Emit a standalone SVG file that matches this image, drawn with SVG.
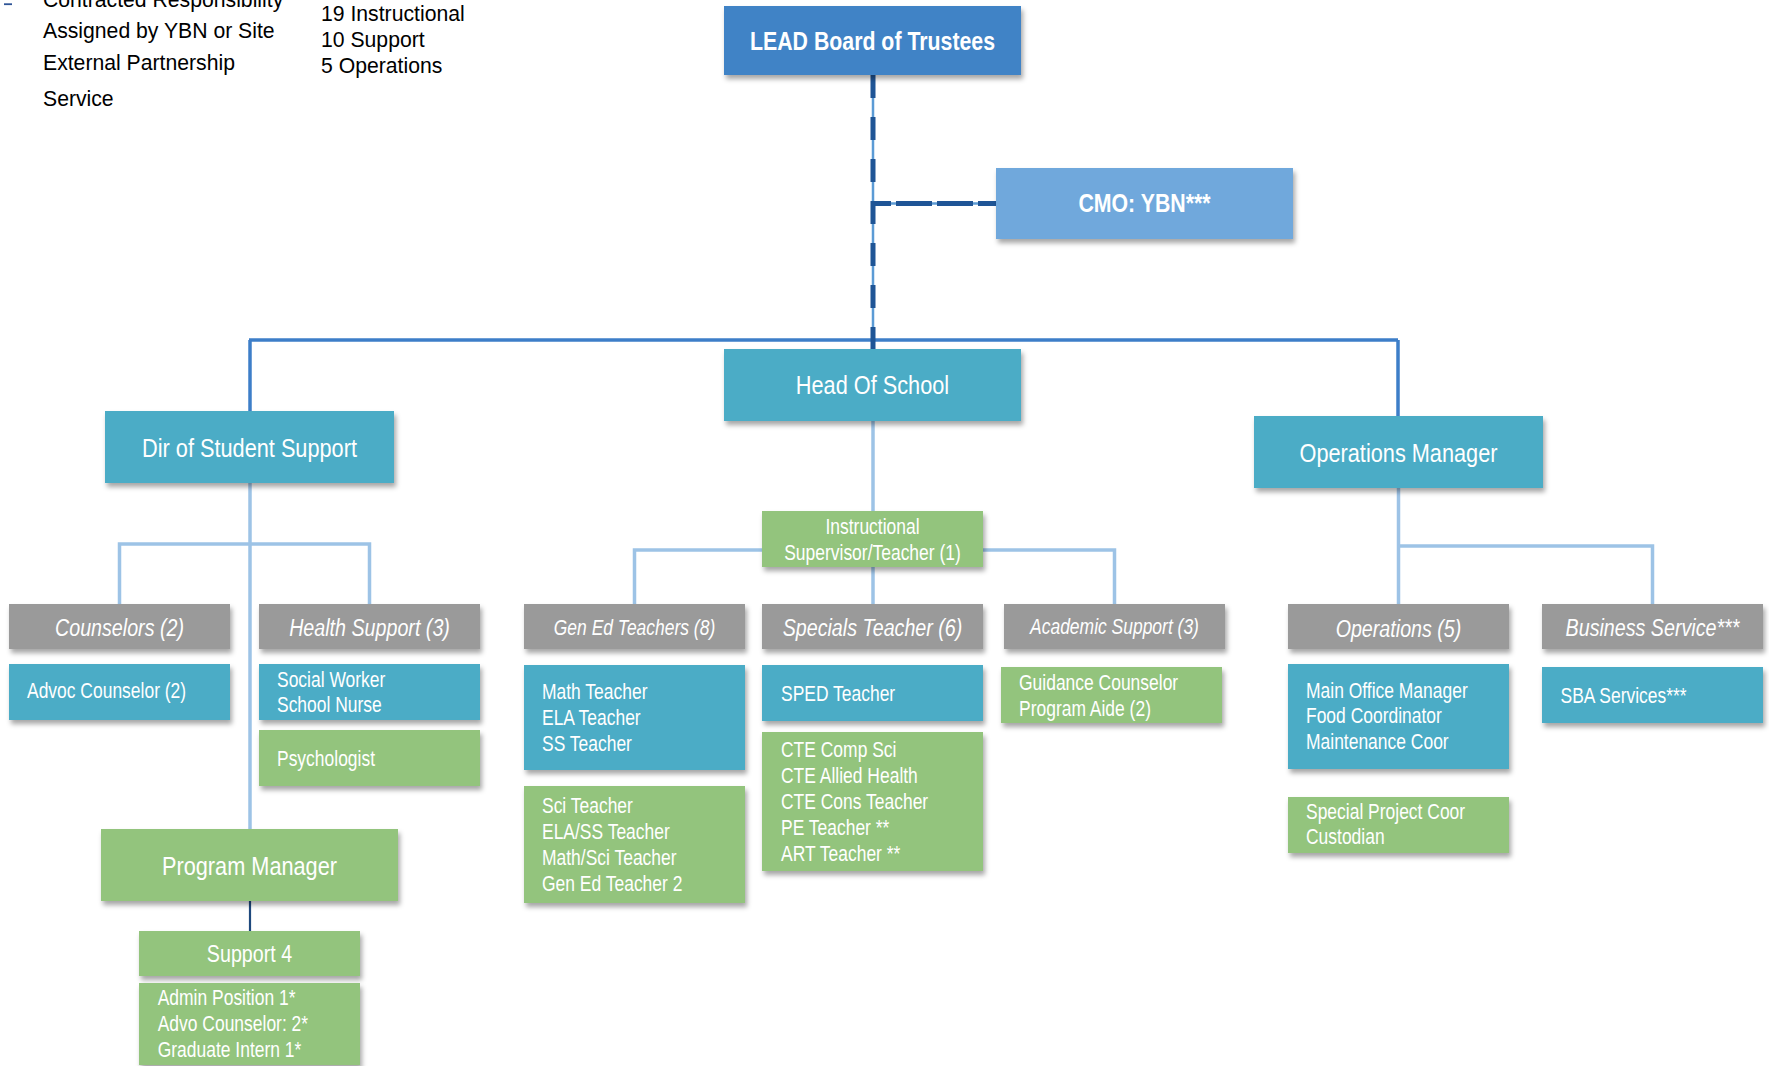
<svg xmlns="http://www.w3.org/2000/svg" width="1769" height="1066" viewBox="0 0 1769 1066">
<defs>
<filter id="sh" x="-10%" y="-20%" width="125%" height="160%">
<feDropShadow dx="2" dy="4" stdDeviation="2.5" flood-color="#000" flood-opacity="0.35"/>
</filter>
<style>
.nb rect{filter:url(#sh)}
.blue{fill:#3F83C6}
.cmo{fill:#6FA8DC}
.teal{fill:#4BACC6}
.green{fill:#93C47D}
.gray{fill:#9A9A9A}
text{font-family:"Liberation Sans",Arial,sans-serif;fill:#fff}
.t1{font-size:26.5px;text-anchor:middle}
.tb{font-size:26px;font-weight:bold;text-anchor:middle}
.th{font-size:24px;font-style:italic;text-anchor:middle}
.ths{font-size:21.3px;font-style:italic;text-anchor:middle}
.ti{font-size:21.3px}
.tc{font-size:21.3px;text-anchor:middle}
.tm{font-size:24px;text-anchor:middle}
.leg{font-size:21.2px;fill:#000}
.lt{fill:none;stroke:#9DC3E6;stroke-width:3.5}
.top{fill:none;stroke:#3D7EC8;stroke-width:3.5}
</style>
</defs>
<rect width="1769" height="1066" fill="#fff"/>

<g id="legend">
<rect x="4" y="3.3" width="8" height="1.8" fill="#2F5597"/>
<text class="leg" x="43" y="7">Contracted Responsibility</text>
<text class="leg" x="43" y="38">Assigned by YBN or Site</text>
<text class="leg" x="43" y="69.5">External Partnership</text>
<text class="leg" x="43" y="105.5">Service</text>
<text class="leg" x="321" y="21">19 Instructional</text>
<text class="leg" x="321" y="47">10 Support</text>
<text class="leg" x="321" y="73">5 Operations</text>
</g>

<g id="connectors">
<line x1="249" y1="340" x2="1398" y2="340" class="top"/>
<line x1="250" y1="340" x2="250" y2="411" class="top"/>
<line x1="1398" y1="340" x2="1398" y2="416" class="top"/>
<line x1="873" y1="75" x2="873" y2="349" stroke="#5B9BD5" stroke-width="2.5"/>
<line x1="873" y1="75" x2="873" y2="349" stroke="#1F5596" stroke-width="5" stroke-dasharray="23 19"/>
<line x1="873" y1="203.5" x2="996" y2="203.5" stroke="#5B9BD5" stroke-width="2.5"/>
<line x1="873" y1="203.5" x2="996" y2="203.5" stroke="#1F5596" stroke-width="5" stroke-dasharray="18 5 36 5 36 5 40"/>
<line x1="873" y1="421" x2="873" y2="511" class="lt"/>
<polyline points="634.5,604 634.5,550 1114.5,550 1114.5,604" class="lt"/>
<line x1="873" y1="567" x2="873" y2="604" class="lt"/>
<line x1="250" y1="483" x2="250" y2="829" class="lt"/>
<polyline points="119.5,604 119.5,544 369.5,544 369.5,604" class="lt"/>
<line x1="1398.5" y1="488" x2="1398.5" y2="604" class="lt"/>
<polyline points="1398.5,546 1652.5,546 1652.5,604" class="lt"/>
<line x1="250" y1="901" x2="250" y2="931" stroke="#1F497D" stroke-width="2.2"/>
</g>

<g id="lead" class="nb"><rect x="724" y="6" width="297" height="69" class="blue"/><text class="tb" transform="translate(872.5 50) scale(0.82 1)">LEAD Board of Trustees</text></g>
<g id="cmo" class="nb"><rect x="996" y="168" width="297" height="71" class="cmo"/><text class="tb" transform="translate(1144.5 212) scale(0.82 1)">CMO: YBN***</text></g>
<g id="head" class="nb"><rect x="724" y="349" width="297" height="72" class="teal"/><text class="t1" transform="translate(872.5 394) scale(0.82 1)">Head Of School</text></g>
<g id="dir" class="nb"><rect x="105" y="411" width="289" height="72" class="teal"/><text class="t1" transform="translate(249.5 456.5) scale(0.82 1)">Dir of Student Support</text></g>
<g id="opsmgr" class="nb"><rect x="1254" y="416" width="289" height="72" class="teal"/><text class="t1" transform="translate(1398.5 461.5) scale(0.82 1)">Operations Manager</text></g>
<g id="progmgr" class="nb"><rect x="101" y="829" width="297" height="72" class="green"/><text class="t1" transform="translate(249.5 875) scale(0.82 1)">Program Manager</text></g>
<g id="instr" class="nb"><rect x="762" y="511" width="221" height="56" class="green"/><text class="tc" transform="translate(872.5 534.3) scale(0.82 1)">Instructional</text><text class="tc" transform="translate(872.5 560) scale(0.82 1)">Supervisor/Teacher (1)</text></g>

<g id="counselors" class="nb"><rect x="9" y="604" width="221" height="45" class="gray"/><text class="th" transform="translate(119.5 635.5) scale(0.82 1)">Counselors (2)</text></g>
<g id="health" class="nb"><rect x="259" y="604" width="221" height="45" class="gray"/><text class="th" transform="translate(369.5 635.5) scale(0.82 1)">Health Support (3)</text></g>
<g id="gened" class="nb"><rect x="524" y="604" width="221" height="45" class="gray"/><text class="ths" transform="translate(634.5 634.5) scale(0.82 1)">Gen Ed Teachers (8)</text></g>
<g id="specials" class="nb"><rect x="762" y="604" width="221" height="45" class="gray"/><text class="th" transform="translate(872.5 636) scale(0.82 1)">Specials Teacher (6)</text></g>
<g id="academic" class="nb"><rect x="1004" y="604" width="221" height="45" class="gray"/><text class="ths" transform="translate(1114.5 634.3) scale(0.82 1)">Academic Support (3)</text></g>
<g id="operations" class="nb"><rect x="1288" y="604" width="221" height="45" class="gray"/><text class="th" transform="translate(1398.5 636.5) scale(0.82 1)">Operations (5)</text></g>
<g id="business" class="nb"><rect x="1542" y="604" width="221" height="45" class="gray"/><text class="th" transform="translate(1652.5 636) scale(0.82 1)">Business Service***</text></g>

<g id="advoc" class="nb"><rect x="9" y="664" width="221" height="56" class="teal"/><text class="ti" transform="translate(27 698.3) scale(0.82 1)">Advoc Counselor (2)</text></g>
<g id="social" class="nb"><rect x="259" y="664" width="221" height="56" class="teal"/><text class="ti" transform="translate(277 686.7) scale(0.82 1)">Social Worker</text><text class="ti" transform="translate(277 712.3) scale(0.82 1)">School Nurse</text></g>
<g id="psych" class="nb"><rect x="259" y="730" width="221" height="56" class="green"/><text class="ti" transform="translate(277 766) scale(0.82 1)">Psychologist</text></g>
<g id="math" class="nb"><rect x="524" y="665" width="221" height="105" class="teal"/><text class="ti" transform="translate(542 699.3) scale(0.82 1)">Math Teacher</text><text class="ti" transform="translate(542 725) scale(0.82 1)">ELA Teacher</text><text class="ti" transform="translate(542 751) scale(0.82 1)">SS Teacher</text></g>
<g id="sci" class="nb"><rect x="524" y="786" width="221" height="117" class="green"/><text class="ti" transform="translate(542 813.3) scale(0.82 1)">Sci Teacher</text><text class="ti" transform="translate(542 839) scale(0.82 1)">ELA/SS Teacher</text><text class="ti" transform="translate(542 865) scale(0.82 1)">Math/Sci Teacher</text><text class="ti" transform="translate(542 891) scale(0.82 1)">Gen Ed Teacher 2</text></g>
<g id="sped" class="nb"><rect x="762" y="665" width="221" height="56" class="teal"/><text class="ti" transform="translate(781 701) scale(0.82 1)">SPED Teacher</text></g>
<g id="cte" class="nb"><rect x="762" y="732" width="221" height="139" class="green"/><text class="ti" transform="translate(781 757.3) scale(0.82 1)">CTE Comp Sci</text><text class="ti" transform="translate(781 783.3) scale(0.82 1)">CTE Allied Health</text><text class="ti" transform="translate(781 809.3) scale(0.82 1)">CTE Cons Teacher</text><text class="ti" transform="translate(781 835.3) scale(0.82 1)">PE Teacher **</text><text class="ti" transform="translate(781 861) scale(0.82 1)">ART Teacher **</text></g>
<g id="guidance" class="nb"><rect x="1001" y="667" width="221" height="56" class="green"/><text class="ti" transform="translate(1019 690) scale(0.82 1)">Guidance Counselor</text><text class="ti" transform="translate(1019 715.7) scale(0.82 1)">Program Aide (2)</text></g>
<g id="mainoffice" class="nb"><rect x="1288" y="664" width="221" height="105" class="teal"/><text class="ti" transform="translate(1306 697.7) scale(0.82 1)">Main Office Manager</text><text class="ti" transform="translate(1306 723.3) scale(0.82 1)">Food Coordinator</text><text class="ti" transform="translate(1306 749.3) scale(0.82 1)">Maintenance Coor</text></g>
<g id="special" class="nb"><rect x="1288" y="797" width="221" height="56" class="green"/><text class="ti" transform="translate(1306 819) scale(0.82 1)">Special Project Coor</text><text class="ti" transform="translate(1306 844.3) scale(0.82 1)">Custodian</text></g>
<g id="sba" class="nb"><rect x="1542" y="667" width="221" height="56" class="teal"/><text class="ti" transform="translate(1560.5 702.7) scale(0.82 1)">SBA Services***</text></g>
<g id="support4" class="nb"><rect x="139" y="931" width="221" height="45" class="green"/><text class="tm" transform="translate(249.5 961.7) scale(0.82 1)">Support 4</text></g>
<g id="admin" class="nb"><rect x="139" y="983" width="221" height="82" class="green"/><text class="ti" transform="translate(157.7 1005) scale(0.82 1)">Admin Position 1*</text><text class="ti" transform="translate(157.7 1030.7) scale(0.82 1)">Advo Counselor: 2*</text><text class="ti" transform="translate(157.7 1056.7) scale(0.82 1)">Graduate Intern 1*</text></g>
</svg>
